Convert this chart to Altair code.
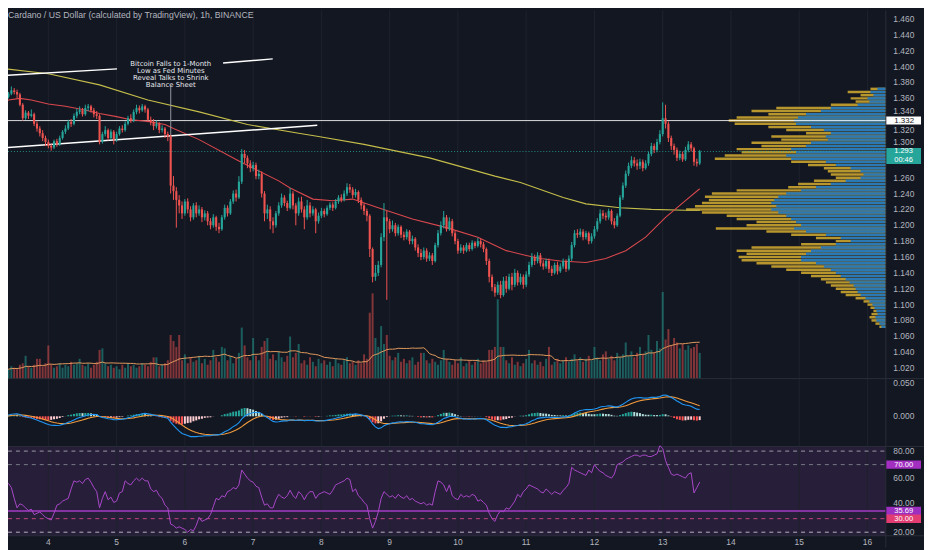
import altair as alt
import pandas as pd
import numpy as np

# ---------------- data ----------------
first_open = 1.348
closes = [
    1.352, 1.358, 1.362, 1.366, 1.370, 1.368, 1.365, 1.352, 1.335, 1.342,
    1.338, 1.340, 1.328, 1.322, 1.316, 1.310, 1.305, 1.300, 1.298, 1.306,
    1.302, 1.310, 1.318, 1.322, 1.330, 1.328, 1.338, 1.343, 1.345, 1.340,
    1.348, 1.350, 1.345, 1.340, 1.338, 1.305, 1.315, 1.320, 1.310, 1.318,
    1.308, 1.315, 1.322, 1.320, 1.328, 1.335, 1.332, 1.343, 1.348, 1.345,
    1.350, 1.346, 1.333, 1.330, 1.325, 1.328, 1.320, 1.322, 1.315, 1.312,
    1.250, 1.243, 1.232, 1.225, 1.215, 1.230, 1.220, 1.210, 1.225, 1.215,
    1.220, 1.210, 1.215, 1.205, 1.200, 1.210, 1.198, 1.195, 1.210, 1.222,
    1.215, 1.230, 1.240, 1.235, 1.255, 1.290, 1.285, 1.278, 1.272, 1.276,
    1.262, 1.265, 1.240, 1.215, 1.220, 1.205, 1.200, 1.215, 1.225, 1.235,
    1.228, 1.222, 1.240, 1.225, 1.215, 1.230, 1.220, 1.210, 1.225, 1.215,
    1.220, 1.205, 1.212, 1.218, 1.214, 1.222, 1.226, 1.222, 1.230, 1.235,
    1.232, 1.240, 1.248, 1.245, 1.238, 1.242, 1.232, 1.225, 1.218, 1.212,
    1.170, 1.135, 1.140, 1.150, 1.185, 1.210, 1.205, 1.195, 1.200, 1.190,
    1.198, 1.188, 1.185, 1.192, 1.180, 1.183, 1.172, 1.165, 1.160, 1.168,
    1.158, 1.162, 1.155, 1.175, 1.190, 1.200, 1.210, 1.195, 1.205, 1.190,
    1.180, 1.168, 1.172, 1.168, 1.175, 1.170, 1.178, 1.174, 1.180, 1.176,
    1.170, 1.155, 1.135, 1.122, 1.115, 1.125, 1.112, 1.130, 1.120, 1.135,
    1.125, 1.140, 1.128, 1.135, 1.125, 1.138, 1.150, 1.160, 1.155, 1.162,
    1.152, 1.148, 1.155, 1.145, 1.140, 1.150, 1.142, 1.148, 1.155, 1.145,
    1.158, 1.175, 1.190, 1.188, 1.192, 1.185, 1.190, 1.180, 1.186, 1.195,
    1.205, 1.215, 1.212, 1.210, 1.218, 1.205, 1.200, 1.212, 1.235, 1.250,
    1.265, 1.275, 1.282, 1.278, 1.275, 1.280, 1.272, 1.278, 1.290, 1.300,
    1.295, 1.305, 1.315, 1.335, 1.328, 1.310, 1.300, 1.295, 1.285, 1.290,
    1.283, 1.295, 1.302, 1.297, 1.280, 1.278, 1.293,
]
highs = [
    1.355, 1.360, 1.365, 1.368, 1.375, 1.373, 1.371, 1.367, 1.354, 1.345,
    1.344, 1.346, 1.342, 1.331, 1.325, 1.320, 1.313, 1.308, 1.303, 1.308,
    1.309, 1.313, 1.320, 1.326, 1.333, 1.334, 1.341, 1.347, 1.350, 1.348,
    1.352, 1.353, 1.352, 1.348, 1.344, 1.340, 1.318, 1.325, 1.322, 1.321,
    1.320, 1.318, 1.325, 1.326, 1.331, 1.338, 1.340, 1.346, 1.352, 1.351,
    1.353, 1.352, 1.348, 1.337, 1.334, 1.332, 1.330, 1.326, 1.324, 1.318,
    1.314, 1.262, 1.248, 1.238, 1.230, 1.233, 1.234, 1.224, 1.228, 1.229,
    1.225, 1.223, 1.219, 1.218, 1.209, 1.214, 1.212, 1.203, 1.213, 1.226,
    1.225, 1.233, 1.244, 1.245, 1.262, 1.296, 1.295, 1.288, 1.282, 1.280,
    1.279, 1.270, 1.268, 1.243, 1.226, 1.224, 1.210, 1.218, 1.229, 1.240,
    1.238, 1.231, 1.247, 1.243, 1.228, 1.235, 1.236, 1.224, 1.232, 1.229,
    1.224, 1.222, 1.216, 1.222, 1.221, 1.225, 1.229, 1.229, 1.233, 1.238,
    1.239, 1.244, 1.253, 1.252, 1.248, 1.246, 1.244, 1.235, 1.228, 1.221,
    1.214, 1.172, 1.150, 1.155, 1.190, 1.228, 1.218, 1.208, 1.206, 1.203,
    1.201, 1.200, 1.192, 1.195, 1.194, 1.187, 1.185, 1.176, 1.170, 1.172,
    1.171, 1.166, 1.165, 1.178, 1.194, 1.205, 1.218, 1.213, 1.210, 1.208,
    1.193, 1.183, 1.176, 1.175, 1.178, 1.178, 1.181, 1.180, 1.184, 1.183,
    1.179, 1.172, 1.158, 1.138, 1.126, 1.129, 1.130, 1.135, 1.136, 1.139,
    1.140, 1.145, 1.143, 1.139, 1.138, 1.142, 1.154, 1.165, 1.163, 1.166,
    1.165, 1.156, 1.158, 1.158, 1.149, 1.153, 1.154, 1.152, 1.158, 1.157,
    1.162, 1.179, 1.194, 1.195, 1.196, 1.195, 1.193, 1.192, 1.190, 1.199,
    1.209, 1.220, 1.219, 1.216, 1.221, 1.220, 1.209, 1.215, 1.238, 1.254,
    1.269, 1.279, 1.287, 1.286, 1.283, 1.284, 1.283, 1.282, 1.293, 1.304,
    1.303, 1.309, 1.320, 1.355, 1.352, 1.331, 1.313, 1.303, 1.298, 1.294,
    1.293, 1.299, 1.306, 1.305, 1.299, 1.284, 1.295,
]
lows = [
    1.346, 1.350, 1.356, 1.360, 1.364, 1.365, 1.360, 1.350, 1.332, 1.333,
    1.334, 1.336, 1.325, 1.318, 1.312, 1.306, 1.300, 1.297, 1.294, 1.296,
    1.299, 1.300, 1.308, 1.315, 1.320, 1.324, 1.326, 1.335, 1.340, 1.337,
    1.338, 1.344, 1.342, 1.336, 1.334, 1.302, 1.303, 1.312, 1.307, 1.308,
    1.302, 1.305, 1.313, 1.317, 1.318, 1.326, 1.329, 1.330, 1.340, 1.341,
    1.343, 1.342, 1.330, 1.326, 1.320, 1.322, 1.316, 1.317, 1.310, 1.306,
    1.240, 1.232, 1.197, 1.215, 1.208, 1.212, 1.215, 1.205, 1.207, 1.210,
    1.212, 1.204, 1.206, 1.200, 1.195, 1.197, 1.193, 1.190, 1.193, 1.207,
    1.211, 1.213, 1.227, 1.230, 1.233, 1.252, 1.278, 1.272, 1.267, 1.268,
    1.258, 1.258, 1.235, 1.205, 1.208, 1.195, 1.190, 1.197, 1.212, 1.222,
    1.224, 1.218, 1.220, 1.220, 1.200, 1.212, 1.216, 1.195, 1.207, 1.210,
    1.212, 1.190, 1.202, 1.209, 1.210, 1.212, 1.219, 1.218, 1.220, 1.227,
    1.229, 1.230, 1.237, 1.241, 1.234, 1.235, 1.228, 1.220, 1.213, 1.205,
    1.160, 1.128, 1.130, 1.136, 1.147, 1.180, 1.106, 1.190, 1.192, 1.186,
    1.187, 1.184, 1.181, 1.182, 1.176, 1.176, 1.168, 1.160, 1.156, 1.157,
    1.154, 1.155, 1.150, 1.153, 1.172, 1.187, 1.196, 1.192, 1.193, 1.186,
    1.176, 1.164, 1.165, 1.164, 1.166, 1.167, 1.168, 1.171, 1.172, 1.172,
    1.166, 1.150, 1.128, 1.117, 1.110, 1.112, 1.108, 1.110, 1.115, 1.118,
    1.118, 1.122, 1.124, 1.125, 1.120, 1.122, 1.135, 1.147, 1.150, 1.152,
    1.148, 1.144, 1.145, 1.140, 1.136, 1.138, 1.138, 1.140, 1.145, 1.141,
    1.143, 1.155, 1.172, 1.184, 1.185, 1.181, 1.182, 1.176, 1.177, 1.183,
    1.192, 1.202, 1.208, 1.206, 1.207, 1.201, 1.196, 1.198, 1.210, 1.232,
    1.247, 1.262, 1.272, 1.274, 1.270, 1.271, 1.268, 1.270, 1.275, 1.287,
    1.291, 1.292, 1.302, 1.312, 1.322, 1.305, 1.295, 1.289, 1.281, 1.282,
    1.280, 1.281, 1.292, 1.293, 1.275, 1.274, 1.276,
]
volumes = [
    6, 5, 7, 6, 8, 7, 6, 9, 10, 15,
    8, 7, 9, 13, 13, 8, 10, 22, 9, 7,
    8, 10, 7, 9, 8, 11, 9, 10, 13, 9,
    8, 10, 7, 9, 11, 19, 20, 10, 8, 9,
    7, 8, 6, 9, 7, 10, 8, 9, 7, 8,
    10, 9, 8, 11, 14, 14, 8, 9, 10, 12,
    29, 25, 21, 29, 12, 16, 10, 14, 11, 12,
    15, 10, 13, 9, 12, 19, 14, 11, 21, 20,
    12, 15, 10, 13, 17, 34, 22, 14, 12, 27,
    15, 12, 21, 25, 27, 13, 16, 12, 18, 14,
    11, 15, 28, 14, 17, 23, 10, 12, 9, 14,
    11, 8, 13, 10, 12, 9, 11, 8, 13, 10,
    9, 12, 14, 10, 11, 9, 12, 10, 16, 13,
    44, 57, 27, 21, 35, 23, 29, 15, 12, 14,
    17, 11, 13, 10, 12, 14, 9, 11, 17, 17,
    12, 10, 13, 11, 9, 12, 19, 13, 11, 9,
    12, 10, 14, 8, 10, 12, 9, 11, 13, 10,
    12, 11, 19, 19, 21, 53, 21, 21, 12, 10,
    14, 9, 11, 8, 10, 13, 19, 10, 12, 9,
    11, 8, 13, 21, 9, 11, 13, 10, 12, 14,
    11, 13, 16, 12, 14, 11, 13, 15, 12, 21,
    14, 12, 16, 18, 13, 15, 12, 17, 14, 16,
    24, 15, 18, 14, 17, 21, 16, 18, 29, 19,
    17, 25, 20, 58, 26, 33, 22, 27, 24, 20,
    23, 19, 22, 20, 21, 23, 17,
]
rsi_values = [
    48, 54, 58, 56, 53, 45, 38, 41, 40, 38,
    36, 37, 33, 34, 35, 33, 31, 30, 29, 34,
    40, 41, 43, 44, 45, 52, 58, 57, 58, 56,
    59, 60, 57, 53, 50, 38, 45, 50, 44, 46,
    42, 43, 49, 50, 58, 56, 55, 58, 60, 58,
    60, 58, 58, 52, 50, 51, 47, 45, 40, 38,
    26, 25, 23, 24, 23, 22, 20, 22, 21, 25,
    31, 28, 29, 30, 33, 39, 45, 44, 47, 46,
    50, 51, 53, 52, 55, 66, 63, 60, 58, 57,
    54, 53, 46, 40, 41, 38, 38, 44, 48, 46,
    45, 47, 51, 47, 45, 50, 48, 44, 48, 50,
    50, 45, 48, 49, 50, 49, 48, 51, 55, 56,
    57, 58, 60, 59, 50, 52, 47, 45, 42, 40,
    30, 23, 28, 35, 45, 50, 48, 46, 47, 45,
    48, 46, 45, 47, 44, 45, 43, 42, 41, 42,
    40, 41, 40, 50, 58, 57, 55, 50, 55, 47,
    45, 44, 48, 46, 47, 46, 48, 47, 43, 44,
    42, 40, 34, 30, 28, 33, 36, 35, 38, 37,
    40, 43, 48, 46, 50, 52, 55, 54, 53, 52,
    50, 49, 52, 50, 48, 50, 49, 48, 51, 53,
    56, 68, 66, 65, 64, 63, 62, 66, 64, 70,
    67, 65, 64, 62, 61, 60, 63, 70, 71, 72,
    74, 75, 76, 77, 77, 76, 77, 77, 76, 76,
    77, 78, 84, 82, 73, 68, 63, 62, 63, 62,
    61, 60, 63, 64, 49, 53, 57,
]

# moving averages read at sample candles (candle index, price)
red_ma_idx = [0, 3, 7, 11, 17, 23, 29, 35, 41, 46, 52, 58, 61, 70, 84, 98, 102, 110, 117, 124,
              133, 145, 157, 168, 178, 185, 190, 197, 206, 213, 220, 227, 234, 241, 246]
red_ma_val = [1.352, 1.358, 1.360, 1.358, 1.353, 1.350, 1.346, 1.341, 1.337, 1.333,
              1.331, 1.327, 1.322, 1.308, 1.281, 1.256, 1.247, 1.233, 1.231, 1.233,
              1.222, 1.208, 1.197, 1.185, 1.168, 1.162, 1.158, 1.155, 1.153, 1.158,
              1.168, 1.185, 1.210, 1.231, 1.246]
yel_ma_idx = [0, 17, 35, 52, 70, 87, 105, 112, 128, 151, 174, 183, 198, 206, 218, 229, 241, 246]
yel_ma_val = [1.398, 1.391, 1.377, 1.358, 1.343, 1.327, 1.316, 1.312, 1.302, 1.285,
              1.262, 1.254, 1.235, 1.227, 1.222, 1.220, 1.219, 1.219]

# volume profile (price row, total length, up-volume length)
vp_price = [1.372, 1.368, 1.364, 1.360, 1.356, 1.352, 1.348, 1.344, 1.340, 1.336,
            1.332, 1.328, 1.324, 1.320, 1.316, 1.312, 1.308, 1.304, 1.300, 1.296,
            1.292, 1.288, 1.284, 1.280, 1.276, 1.272, 1.268, 1.264, 1.260, 1.256,
            1.252, 1.248, 1.244, 1.240, 1.236, 1.232, 1.228, 1.224, 1.220, 1.216,
            1.212, 1.208, 1.204, 1.200, 1.196, 1.192, 1.188, 1.184, 1.180, 1.176,
            1.172, 1.168, 1.164, 1.160, 1.156, 1.152, 1.148, 1.144, 1.140, 1.136,
            1.132, 1.128, 1.124, 1.120, 1.116, 1.112, 1.108, 1.104, 1.100, 1.096,
            1.092, 1.088, 1.084, 1.080, 1.076, 1.072]
vp_total = [15, 38, 25, 35, 30, 55, 110, 135, 118, 150,
            158, 152, 118, 100, 80, 115, 105, 135, 125, 150,
            145, 162, 172, 95, 78, 62, 58, 55, 50, 72,
            88, 98, 150, 175, 182, 178, 185, 192, 201, 185,
            160, 150, 130, 140, 171, 120, 95, 70, 50, 85,
            135, 150, 140, 148, 145, 130, 115, 100, 85, 75,
            65, 60, 55, 50, 45, 40, 30, 22, 18, 15,
            12, 14, 16, 14, 10, 6]
vp_up = [8, 15, 12, 18, 16, 28, 55, 65, 80, 88,
         92, 90, 75, 62, 55, 60, 58, 75, 80, 95,
         90, 100, 95, 60, 50, 35, 25, 22, 25, 40,
         55, 70, 85, 100, 108, 112, 115, 110, 115, 108,
         100, 95, 90, 85, 92, 80, 60, 45, 35, 50,
         65, 75, 80, 85, 85, 70, 62, 55, 50, 45,
         40, 36, 32, 30, 28, 25, 20, 16, 13, 11,
         9, 8, 10, 9, 6, 4]

# axis tick labels (1.280 is hidden behind the last-price tag in the reference)
price_ticks = [1.46, 1.44, 1.42, 1.40, 1.38, 1.36, 1.32, 1.26, 1.24,
               1.22, 1.20, 1.18, 1.16, 1.14, 1.12, 1.10, 1.08, 1.06, 1.04, 1.02]
price_ticks_near_tags = [1.34, 1.30]
macd_ticks = [0.05, 0.0]
rsi_ticks = [80, 60, 20]
rsi_ticks_near_tags = [40]
day_ticks = [4, 5, 6, 7, 8, 9, 10, 11, 12, 13, 14, 15, 16]

hline_price = 1.332
last_price = 1.293
countdown = "00:46"
rsi_levels = [80, 70, 30, 20]
rsi_ma_level = 35.69

# trend lines: (day, price) endpoints
tl_d1 = [3.293, 6.56, 3.293]
tl_p1 = [1.3885, 1.4047, 1.2973]
tl_d2 = [5.006, 7.287, 7.94]
tl_p2 = [1.3972, 1.4098, 1.326]
note_day = 5.793
note_top = 1.4082
note_line_top = 1.3747
note_line_bottom = 1.306
note_text = "Bitcoin Falls to 1-Month\nLow as Fed Minutes\nReveal Talks to Shrink\nBalance Sheet"
title_text = "Cardano / US Dollar (calculated by TradingView), 1h, BINANCE"

# ---------------- tables ----------------
UP, DOWN = "#26a69a", "#ef5350"
BG = "#131722"
TXT = "#b2b5be"
FONT = "Liberation Sans"

n = len(closes)
idx = list(range(n))
def to_day(i):
    return 3 + (7 + i) / 24.0

df = pd.DataFrame({
    "i": idx, "d": [to_day(i) for i in idx],
    "o": [first_open] + closes[:-1], "h": highs, "l": lows, "c": closes,
    "v": volumes, "rsi": rsi_values,
})
df["z"] = 0.0
df["col"] = np.where(df["c"] >= df["o"], UP, DOWN)
ema12 = df["c"].ewm(span=12, adjust=False).mean()
ema26 = df["c"].ewm(span=26, adjust=False).mean()
df["macd"] = ema12 - ema26
df["sig"] = df["macd"].ewm(span=9, adjust=False).mean()
df["hv"] = df["macd"] - df["sig"]
prev = df["hv"].shift(1).fillna(0)
df["hcol"] = np.where(df["hv"] >= 0,
                      np.where(df["hv"] >= prev, "#26a69a", "#b2dfdb"),
                      np.where(df["hv"] <= prev, "#ff5252", "#ffcdd2"))

red_df = pd.DataFrame({"d": [to_day(i) for i in red_ma_idx], "p": red_ma_val})
yel_df = pd.DataFrame({"d": [to_day(i) for i in yel_ma_idx], "p": yel_ma_val})
vp_df = pd.DataFrame({"p": vp_price, "t": vp_total, "u": vp_up, "z": 0.0})
tl_df = pd.DataFrame({"d1": tl_d1, "p1": tl_p1, "d2": tl_d2, "p2": tl_p2})
def ticks(vals, fmt):
    return pd.DataFrame({"v": vals, "t": [fmt.format(v) for v in vals]})
pt_df = ticks(price_ticks, "{:.3f}")
pt2_df = ticks(price_ticks_near_tags, "{:.3f}")
mt_df = ticks(macd_ticks, "{:.3f}")
rt_df = ticks(rsi_ticks, "{:.2f}")
rt2_df = ticks(rsi_ticks_near_tags, "{:.2f}")
dt_df = pd.DataFrame({"d": day_ticks, "t": [str(v) for v in day_ticks]})
one = pd.DataFrame({"k": [0]})

# ---------------- scales ----------------
XS = alt.Scale(domain=[4, 16], range=[40.7, 867.0], nice=False, zero=False)
PS = alt.Scale(domain=[1.06, 1.38], range=[328.8, 72.8], nice=False, zero=False)
VS = alt.Scale(domain=[0, 60], range=[371, 281], nice=False, zero=False)
MS = alt.Scale(domain=[0, 0.05], range=[409.5, 376], nice=False, zero=False)
RS = alt.Scale(domain=[20, 80], range=[526.4, 444.6], nice=False, zero=False)
VPS = alt.Scale(domain=[0, 200], range=[885, 685], nice=False, zero=False)

def X(f, s=XS):
    return alt.X(f, type="quantitative", scale=s, axis=None)

def Y(f, s):
    return alt.Y(f, type="quantitative", scale=s, axis=None)

layers = []

# pane backgrounds / separators / grid
layers.append(alt.Chart(one).mark_rect(color="#8e44ad", opacity=0.17).encode(
    x=alt.value(0), x2=alt.value(885), y=alt.value(440), y2=alt.value(530)))
layers.append(alt.Chart(dt_df).mark_rule(color="#1e222d", strokeWidth=1).encode(
    x=X("d"), y=alt.value(0), y2=alt.value(530)))
for yy in [371.5, 440, 530]:
    layers.append(alt.Chart(one).mark_rule(color="#2a2e39", strokeWidth=1).encode(
        x=alt.value(0), x2=alt.value(924), y=alt.value(yy)))
layers.append(alt.Chart(one).mark_rule(color="#2a2e39", strokeWidth=1).encode(
    x=alt.value(885.5), y=alt.value(0), y2=alt.value(542)))

# volume profile
layers.append(alt.Chart(vp_df).mark_rule(color="#b8962e", strokeWidth=2.5).encode(
    x=X("z", VPS), x2="t:Q", y=Y("p", PS)))
layers.append(alt.Chart(vp_df).mark_rule(color="#2a78b4", strokeWidth=2.5).encode(
    x=X("z", VPS), x2="u:Q", y=Y("p", PS)))

# volume bars + MA
base = alt.Chart(df)
layers.append(base.mark_rule(strokeWidth=2, opacity=0.5).encode(
    x=X("d"), y=Y("z", VS), y2="v:Q", color=alt.Color("col:N", scale=None)))
layers.append(base.transform_window(
    vma="mean(v)", frame=[-19, 0], sort=[alt.SortField("i", order="ascending")]
).mark_line(color="#e39a5c", strokeWidth=1).encode(x=X("d"), y=Y("vma", VS)))

# horizontal price lines
layers.append(alt.Chart(pd.DataFrame({"v": [hline_price]})).mark_rule(
    color="#ffffff", strokeWidth=1, opacity=0.85).encode(
    x=alt.value(0), x2=alt.value(885), y=Y("v", PS)))
layers.append(alt.Chart(pd.DataFrame({"v": [last_price]})).mark_rule(
    color="#26a69a", strokeWidth=1, strokeDash=[1, 2], opacity=0.8).encode(
    x=alt.value(0), x2=alt.value(885), y=Y("v", PS)))

# moving averages
layers.append(alt.Chart(yel_df).mark_line(color="#c4bd4a", strokeWidth=1.1).encode(
    x=X("d"), y=Y("p", PS)))
layers.append(alt.Chart(red_df).mark_line(color="#d9484d", strokeWidth=1.1).encode(
    x=X("d"), y=Y("p", PS)))

# trend lines and note
layers.append(alt.Chart(tl_df).mark_rule(color="#ffffff", strokeWidth=1.5).encode(
    x=X("d1"), x2="d2:Q", y=Y("p1", PS), y2="p2:Q"))
layers.append(alt.Chart(pd.DataFrame({"d": [note_day], "a": [note_line_top], "b": [note_line_bottom]}))
              .mark_rule(color="#9598a1", strokeWidth=1).encode(x=X("d"), y=Y("a", PS), y2="b:Q"))
layers.append(alt.Chart(pd.DataFrame({"d": [note_day], "p": [note_top], "t": [note_text]}))
              .mark_text(align="center", baseline="top", lineBreak="\n", lineHeight=7.1,
                         fontSize=7, color="#e6e8ee", font="DejaVu Sans").encode(
    x=X("d"), y=Y("p", PS), text="t:N"))

# candles
layers.append(base.mark_rule(strokeWidth=1).encode(
    x=X("d"), y=Y("l", PS), y2="h:Q", color=alt.Color("col:N", scale=None)))
layers.append(base.mark_rule(strokeWidth=2.1).encode(
    x=X("d"), y=Y("o", PS), y2="c:Q", color=alt.Color("col:N", scale=None)))

# MACD
layers.append(base.mark_rule(strokeWidth=2).encode(
    x=X("d"), y=Y("z", MS), y2="hv:Q", color=alt.Color("hcol:N", scale=None)))
layers.append(base.mark_line(color="#f29b3c", strokeWidth=1.1).encode(x=X("d"), y=Y("sig", MS)))
layers.append(base.mark_line(color="#2196f3", strokeWidth=1.1).encode(x=X("d"), y=Y("macd", MS)))

# RSI
lvl_style = {80: ("#9a9ca5", [4, 4]), 70: ("#787b86", [4, 4]), 30: ("#c2477e", [4, 4]), 20: ("#b2b5be", [4, 4])}
for lv in rsi_levels:
    colr, dash = lvl_style[lv]
    layers.append(alt.Chart(pd.DataFrame({"v": [lv]})).mark_rule(
        color=colr, strokeWidth=1, strokeDash=dash).encode(
        x=alt.value(0), x2=alt.value(885), y=Y("v", RS)))
layers.append(alt.Chart(pd.DataFrame({"v": [rsi_ma_level]})).mark_rule(
    color="#a43cc4", strokeWidth=1.5).encode(x=alt.value(0), x2=alt.value(885), y=Y("v", RS)))
layers.append(base.mark_line(color="#a848c8", strokeWidth=1).encode(x=X("d"), y=Y("rsi", RS)))

# axis labels
lab = dict(align="left", baseline="middle", fontSize=8.5, color=TXT, font=FONT)
layers.append(alt.Chart(pt_df).mark_text(**lab).encode(x=alt.value(893), y=Y("v", PS), text="t:N"))
layers.append(alt.Chart(pt2_df).mark_text(dy=-3.5, **lab).encode(x=alt.value(893), y=Y("v", PS), text="t:N"))
layers.append(alt.Chart(mt_df).mark_text(**lab).encode(x=alt.value(893), y=Y("v", MS), text="t:N"))
layers.append(alt.Chart(rt_df).mark_text(**lab).encode(x=alt.value(893), y=Y("v", RS), text="t:N"))
layers.append(alt.Chart(rt2_df).mark_text(dy=-2.5, **lab).encode(x=alt.value(893), y=Y("v", RS), text="t:N"))
layers.append(alt.Chart(dt_df).mark_text(align="center", baseline="middle", fontSize=8.5,
                                         color=TXT, font=FONT).encode(
    x=X("d"), y=alt.value(536), text="t:N"))
layers.append(alt.Chart(pd.DataFrame({"t": [title_text]})).mark_text(
    align="left", baseline="top", fontSize=8.8, color=TXT, font=FONT).encode(
    x=alt.value(0), y=alt.value(1), text="t:N"))

# price tags on the axis
def box(scale, value, colr, tcol, label, width=8.5, fs=7.6):
    d = pd.DataFrame({"v": [value], "t": [label]})
    r = alt.Chart(d).mark_rule(color=colr, strokeWidth=width).encode(
        x=alt.value(886), x2=alt.value(921), y=Y("v", scale))
    t = alt.Chart(d).mark_text(align="left", baseline="middle", fontSize=fs, color=tcol,
                               font=FONT).encode(x=alt.value(894), y=Y("v", scale), text="t:N")
    return [r, t]

layers += box(PS, hline_price, "#ffffff", "#131722", f"{hline_price:.3f}", 8, 8)
lp = pd.DataFrame({"v": [last_price], "t": [f"{last_price:.3f}"], "cd": [countdown]})
layers.append(alt.Chart(lp).mark_rule(color="#26a69a", strokeWidth=16, yOffset=4.5).encode(
    x=alt.value(886), x2=alt.value(921), y=Y("v", PS)))
layers.append(alt.Chart(lp).mark_text(align="left", baseline="middle", fontSize=7.5,
                                      color="#ffffff", font=FONT).encode(
    x=alt.value(894), y=Y("v", PS), text="t:N"))
layers.append(alt.Chart(lp).mark_text(align="left", baseline="middle", fontSize=7.5, dy=8.2,
                                      color="#ffffff", font=FONT).encode(
    x=alt.value(894), y=Y("v", PS), text="cd:N"))
layers += box(RS, 70, "#a22fc0", "#ffffff", "70.00")
layers += box(RS, rsi_ma_level, "#9c2fc0", "#ffffff", f"{rsi_ma_level:.2f}")
layers += box(RS, 30, "#e23d72", "#ffffff", "30.00")

chart = alt.layer(*layers).resolve_scale(
    x="independent", y="independent"
).properties(
    width=924, height=542, padding=0, background=BG,
    autosize=alt.AutoSizeParams(type="none"),
).configure_view(stroke=None, fill=BG)

chart.save("out.html", embed_options={"renderer": "svg", "actions": False})
